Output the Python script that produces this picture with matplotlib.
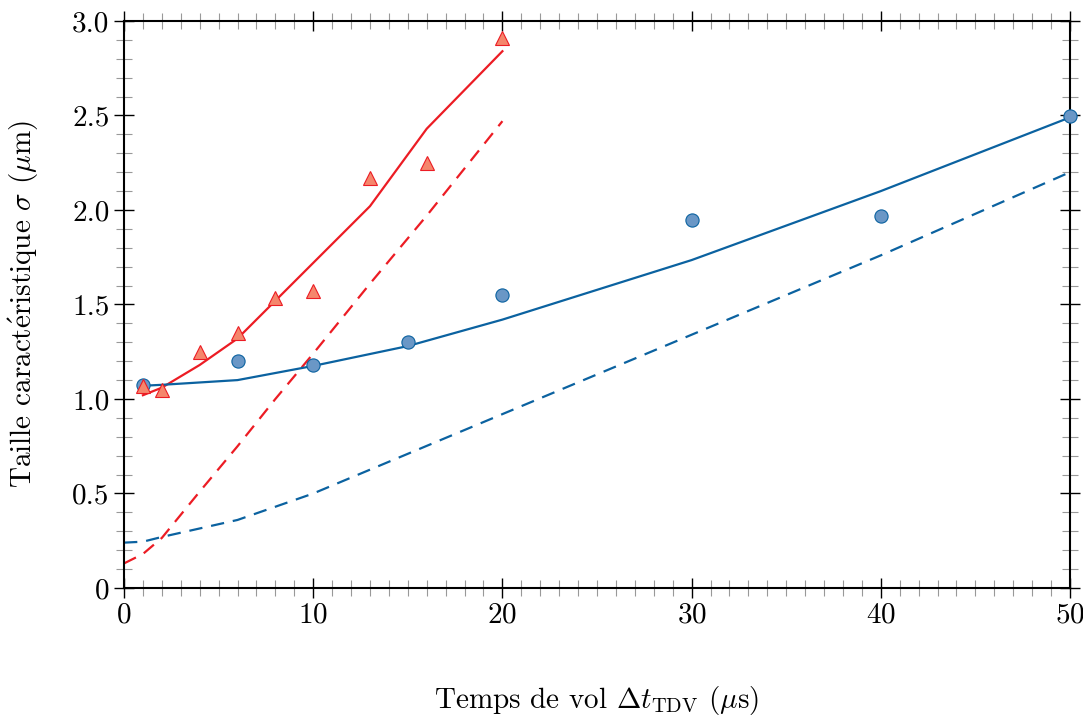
import matplotlib
matplotlib.use('Agg')
import matplotlib.pyplot as plt
from matplotlib.ticker import MultipleLocator, FuncFormatter

# Données
t_bleu_pts = [1, 6, 10, 15, 20, 30, 40, 50]
sigma_bleu_pts = [1.075, 1.20, 1.18, 1.30, 1.55, 1.945, 1.97, 2.495]

t_rouge_pts = [1, 2, 4, 6, 8, 10, 13, 16, 20]
sigma_rouge_pts = [1.07, 1.05, 1.25, 1.35, 1.535, 1.57, 2.17, 2.25, 2.91]

t_bleu_mod = [1, 2, 6, 10, 15, 20, 30, 40, 50]
sigma_bleu_mod = [1.07, 1.075, 1.10, 1.175, 1.28, 1.42, 1.735, 2.10, 2.49]

t_bleu_mod0 = [0, 1, 2, 6, 10, 15, 20, 30, 40, 50]
sigma_bleu_mod0 = [0.24, 0.245, 0.27, 0.36, 0.50, 0.71, 0.92, 1.34, 1.76, 2.20]

t_rouge_mod = [1, 2, 4, 6, 8, 10, 13, 16, 20]
sigma_rouge_mod = [1.02, 1.06, 1.18, 1.32, 1.52, 1.72, 2.02, 2.43, 2.84]

t_rouge_mod0 = [0, 1, 2, 4, 6, 8, 10, 13, 16, 20]
sigma_rouge_mod0 = [0.13, 0.18, 0.265, 0.51, 0.75, 1.0, 1.24, 1.61, 1.97, 2.47]

plt.rcParams['font.family'] = ['cmr10', 'DejaVu Serif']
plt.rcParams['mathtext.fontset'] = 'cm'
plt.rcParams['axes.formatter.use_mathtext'] = True

bleu = '#0b62a0'
rouge = '#ec1c24'

fig = plt.figure(figsize=(10.83, 7.19), dpi=100)
ax = fig.add_axes([0.1145, 0.1822, 0.8735, 0.7886])

ax.plot(t_rouge_mod, sigma_rouge_mod, color=rouge, lw=1.6)
ax.plot(t_rouge_mod0, sigma_rouge_mod0, color=rouge, lw=1.6, ls=(0, (6, 4)))
ax.plot(t_bleu_mod, sigma_bleu_mod, color=bleu, lw=1.6)
ax.plot(t_bleu_mod0, sigma_bleu_mod0, color=bleu, lw=1.6, ls=(0, (6, 4)))

ax.plot(t_bleu_pts, sigma_bleu_pts, 'o', ms=9.5, mfc='#6a97c6', mec=bleu,
        mew=0.8, clip_on=False, zorder=5)
ax.plot(t_rouge_pts, sigma_rouge_pts, '^', ms=10, mfc='#f5866c', mec=rouge,
        mew=0.8, clip_on=False, zorder=5)

ax.set_xlim(0, 50)
ax.set_ylim(0, 3)
ax.xaxis.set_major_locator(MultipleLocator(10))
ax.xaxis.set_minor_locator(MultipleLocator(1))
ax.yaxis.set_major_locator(MultipleLocator(0.5))
ax.yaxis.set_minor_locator(MultipleLocator(0.1))
ax.yaxis.set_major_formatter(FuncFormatter(lambda v, p: '0' if v == 0 else f'{v:.1f}'))

for s in ax.spines.values():
    s.set_linewidth(1.5)

ax.tick_params(which='major', direction='inout', length=15, width=1.0,
               top=True, right=True, labelsize=21, pad=3)
ax.tick_params(which='minor', direction='inout', length=11, width=0.8,
               color='#999999', top=True, right=True)
for i, v in enumerate(ax.get_yticks()):
    if abs(v * 2 % 2 - 1) < 1e-6:
        ax.yaxis.get_major_ticks()[i].tick1line.set_color('#666666')
        ax.yaxis.get_major_ticks()[i].tick2line.set_color('#666666')

ax.set_xlabel(r'Temps de vol $\Delta t_{\mathrm{TDV}}$ ($\mu$s)', fontsize=21, labelpad=40)
ax.set_ylabel(r'Taille caract$\acute{\mathrm{e}}$ristique $\sigma$ ($\mu$m)', fontsize=21, labelpad=22)

fig.savefig('out.png', dpi=100)
